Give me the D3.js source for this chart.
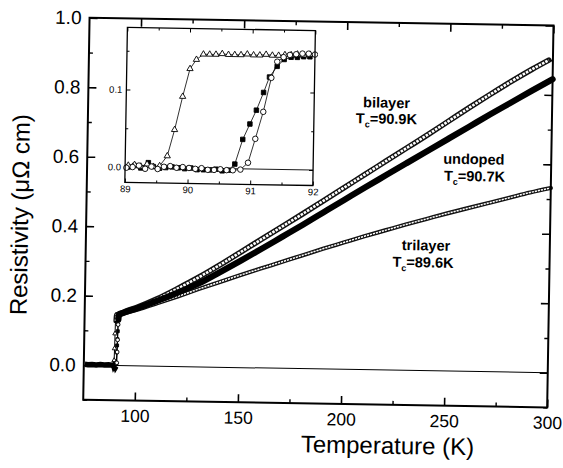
<!DOCTYPE html>
<html>
<head>
<meta charset="utf-8">
<script src="https://cdn.jsdelivr.net/npm/d3@7"></script>
<style>
  body { margin: 0; background: #fff; }
  svg { display: block; font-family: Arial, "Liberation Sans", sans-serif; }
</style>
</head>
<body>
<svg id="chart" width="563" height="468"></svg>
<script>
// ---- values (T in K, resistivity in µΩ cm) ----
const lowT = [75.5, 77, 79, 81, 83, 85, 87, 88.5];
const lowR = [0.002, 0.001, 0.002, 0.001, 0.002, 0.001, 0.002, 0.001];

const highT    = [92, 95, 100, 110, 120, 130, 140, 150, 160, 170, 180, 190, 200, 210, 220, 230, 240, 250, 260, 270, 280, 290, 300];
const bilayerT = [92, 95, 100, 110, 120, 130, 140, 150, 160, 170, 180, 190, 200, 210, 220, 230, 240, 250, 260, 270, 280, 290, 298];
const bilayerR  = [0.150, 0.157, 0.168, 0.194, 0.225, 0.258, 0.294, 0.332, 0.370, 0.408, 0.446, 0.485, 0.524, 0.563, 0.602, 0.641, 0.680, 0.720, 0.760, 0.799, 0.837, 0.873, 0.900];
const undopedR  = [0.148, 0.155, 0.165, 0.188, 0.213, 0.240, 0.273, 0.307, 0.342, 0.378, 0.414, 0.451, 0.488, 0.525, 0.561, 0.597, 0.633, 0.669, 0.705, 0.741, 0.776, 0.811, 0.845];
const trilayerR = [0.146, 0.152, 0.161, 0.181, 0.202, 0.224, 0.245, 0.266, 0.286, 0.306, 0.326, 0.346, 0.365, 0.384, 0.402, 0.420, 0.437, 0.454, 0.470, 0.486, 0.502, 0.518, 0.532];

// inset: transition region, 89-92 K
const triT = [89.05, 89.15, 89.25, 89.35, 89.45, 89.55, 89.67, 89.78, 89.90, 90.01, 90.11, 90.22, 90.32, 90.42, 90.52, 90.62, 90.72, 90.82, 90.92, 91.02, 91.12, 91.22, 91.32, 91.42, 91.52, 91.62, 91.72, 91.82, 91.92];
const triR = [0.002, 0.003, 0.001, 0.004, 0.001, 0.002, 0.015, 0.049, 0.092, 0.128, 0.140, 0.147, 0.147, 0.147, 0.148, 0.147, 0.147, 0.147, 0.148, 0.147, 0.147, 0.148, 0.147, 0.147, 0.148, 0.148, 0.149, 0.148, 0.149];
const sqT  = [89.05, 89.15, 89.25, 89.37, 89.45, 89.55, 89.65, 89.75, 89.85, 89.95, 90.05, 90.15, 90.25, 90.35, 90.45, 90.55, 90.65, 90.75, 90.87, 90.98, 91.08, 91.19, 91.28, 91.40, 91.51, 91.62, 91.72, 91.82, 91.92];
const sqR  = [0.000, 0.002, -0.001, 0.006, 0.001, -0.001, 0.000, 0.001, 0.000, -0.001, 0.000, -0.002, -0.002, -0.002, -0.001, -0.003, -0.002, 0.006, 0.038, 0.058, 0.076, 0.099, 0.119, 0.133, 0.142, 0.145, 0.145, 0.146, 0.146];
const ciT  = [89.02, 89.12, 89.22, 89.32, 89.42, 89.52, 89.62, 89.72, 89.82, 89.92, 90.02, 90.12, 90.22, 90.32, 90.42, 90.52, 90.62, 90.72, 90.84, 90.96, 91.07, 91.19, 91.31, 91.40, 91.50, 91.60, 91.70, 91.80, 91.90, 92.00];
const ciR  = [-0.001, 0.000, 0.002, -0.002, 0.001, -0.002, 0.001, 0.002, 0.000, 0.001, 0.000, -0.001, 0.000, -0.002, -0.002, -0.001, -0.002, -0.002, -0.001, 0.008, 0.039, 0.074, 0.118, 0.139, 0.145, 0.148, 0.149, 0.150, 0.150, 0.149];

const xMajor = [100, 150, 200, 250, 300], xMinor = [125, 175, 225, 275];
const yMajor = [0, 0.2, 0.4, 0.6, 0.8, 1.0], yMinor = [-0.1, 0.1, 0.3, 0.5, 0.7, 0.9];
const ixMajor = [89, 90, 91, 92], ixMinor = [89.5, 90.5, 91.5];
const iyMajor = [0, 0.1], iyMinor = [0.05, 0.15];

const labels = [
  { name: "bilayer",  tc: "=90.9K", x: 361, y: 106, tx: 354, ty: 122 },
  { name: "undoped",  tc: "=90.7K", x: 442, y: 161, tx: 443, ty: 178 },
  { name: "trilayer", tc: "=89.6K", x: 402, y: 248, tx: 393, ty: 265 },
];

const zip = (a, b) => a.map((v, i) => [v, b[i]]);

// series: inset points + main high-T points
const series = [
  { key: "undoped",  inset: zip(sqT, sqR),  high: zip(highT, undopedR),    sym: d3.symbolSquare,   size: 20, fill: "#000", msize: 9 },
  { key: "trilayer", inset: zip(triT, triR), high: zip(highT, trilayerR),  sym: d3.symbolTriangle, size: 17, fill: "#fff", msize: 9 },
  { key: "bilayer",  inset: zip(ciT, ciR),  high: zip(bilayerT, bilayerR), sym: d3.symbolCircle,   size: 24, fill: "#fff", msize: 11 },
];
// split each inset set into baseline / rising / plateau
for (const s of series) {
  const p = s.inset.findIndex(d => d[1] >= 0.125);
  let b = p - 1;
  while (b > 0 && s.inset[b][1] > 0.004) b--;
  s.base = s.inset.slice(0, b + 1);
  s.rise = s.inset.slice(b + 1, p);
  s.top = s.inset.slice(p).filter(d => d[0] < 92).concat(s.high);
}

const svg = d3.select("#chart");
svg.append("rect").attr("width", 563).attr("height", 468).attr("fill", "#fff");
// the scanned figure sits slightly tilted
const root = svg.append("g").attr("transform", "rotate(0.95 281 234)");

const x = d3.scaleLinear().domain([75, 300]).range([86, 550]);
const y = d3.scaleLinear().domain([-0.1, 1.0]).range([403, 21]);

function ticks(g, axis, vals, size, fmt, pad, fs, sw) {
  g.call(axis.tickValues(vals).tickSize(size).tickPadding(pad).tickFormat(fmt));
  g.attr("font-family", null);
  g.select(".domain").remove();
  g.selectAll(".tick line").attr("stroke", "#000").attr("stroke-width", sw);
  g.selectAll(".tick text").attr("font-size", fs).attr("fill", "#000");
}

// ---------- main axes ----------
const gAx = root.append("g");
const f1 = d3.format(".1f"), fd = d3.format("d");
ticks(gAx.append("g").attr("transform", "translate(0,403)"), d3.axisBottom(x), xMajor, -8, fd, 9, 17.5, 1.6);
ticks(gAx.append("g").attr("transform", "translate(0,403)"), d3.axisBottom(x), xMinor, -4, "", 9, 17.5, 1.4);
ticks(gAx.append("g").attr("transform", "translate(0,21)"), d3.axisTop(x), xMajor, -8, "", 3, 18, 1.6);
ticks(gAx.append("g").attr("transform", "translate(0,21)"), d3.axisTop(x), xMinor, -4, "", 3, 18, 1.4);
ticks(gAx.append("g").attr("transform", "translate(86,0)"), d3.axisLeft(y), yMajor, -8, f1, 8, 19, 1.6);
ticks(gAx.append("g").attr("transform", "translate(86,0)"), d3.axisLeft(y), yMinor, -4, "", 8, 19, 1.4);
ticks(gAx.append("g").attr("transform", "translate(550,0)"), d3.axisRight(y), yMajor, -8, "", 3, 18, 1.6);
ticks(gAx.append("g").attr("transform", "translate(550,0)"), d3.axisRight(y), yMinor, -4, "", 3, 18, 1.4);

// zero line
root.append("line")
  .attr("x1", x(90.9)).attr("x2", x(300)).attr("y1", y(0)).attr("y2", y(0))
  .attr("stroke", "#000").attr("stroke-width", 1);

// ---------- main data ----------
const line = d3.line().x(d => x(d[0])).y(d => y(d[1]));
const lineSmooth = d3.line().x(d => x(d[0])).y(d => y(d[1])).curve(d3.curveMonotoneX);
const gData = root.append("g");

// dense marker chains drawn as hollow / solid strokes
const styles = {
  trilayer: [{ w: 4.2, c: "#111" }, { w: 1.5, c: "#fff", dash: "2.2 0.9" }],
  bilayer:  [{ w: 5.6, c: "#111" }, { w: 2.6, c: "#fff", dash: "2.6 1.1" }],
  undoped:  [{ w: 6.2, c: "#000" }],
};
for (const key of ["trilayer", "bilayer", "undoped"]) {
  const s = series.find(d => d.key === key);
  for (const st of styles[key]) {
    gData.append("path").attr("d", lineSmooth(s.top))
      .attr("fill", "none").attr("stroke", st.c).attr("stroke-width", st.w)
      .attr("stroke-dasharray", st.dash || null)
      .attr("stroke-linejoin", "round").attr("stroke-linecap", st.dash ? "butt" : "round");
  }
}
// below Tc: all samples sit on zero (thick black band)
const sq = series.find(d => d.key === "undoped");
gData.append("path").attr("d", line(zip(lowT, lowR).concat(sq.base)))
  .attr("fill", "none").attr("stroke", "#000").attr("stroke-width", 5.5);
// transitions
for (const s of series) {
  const pts = [s.base[s.base.length - 1]].concat(s.rise, [s.top[0]]);
  gData.append("path").attr("d", line(pts)).attr("fill", "none").attr("stroke", "#000").attr("stroke-width", 1);
  gData.selectAll(null).data(s.rise).join("path")
    .attr("transform", d => `translate(${x(d[0])},${y(d[1])})`)
    .attr("d", d3.symbol(s.sym, s.msize))
    .attr("fill", s.fill).attr("stroke", "#000").attr("stroke-width", 0.9);
}

// frame
root.append("rect").attr("x", 86).attr("y", 21).attr("width", 464).attr("height", 382)
  .attr("fill", "none").attr("stroke", "#000").attr("stroke-width", 2);

// ---------- axis titles ----------
root.append("text").attr("x", 391).attr("y", 452).attr("text-anchor", "middle")
  .attr("font-size", 24).text("Temperature (K)");
root.append("text").attr("transform", "translate(28,219) rotate(-90)").attr("text-anchor", "middle")
  .attr("font-size", 24).text("Resistivity (\u03bc\u03a9 cm)");

// ---------- curve labels ----------
const gLab = root.append("g").attr("font-weight", "bold").attr("font-size", 14.5).attr("fill", "#000");
for (const l of labels) {
  gLab.append("text").attr("x", l.x).attr("y", l.y).text(l.name);
  const t = gLab.append("text").attr("x", l.tx).attr("y", l.ty);
  t.append("tspan").text("T");
  t.append("tspan").attr("font-size", 9).attr("dy", 4).text("c");
  t.append("tspan").attr("dy", -4).text(l.tc);
}

// ---------- inset ----------
const ix = d3.scaleLinear().domain([89, 92]).range([124, 312]);
const iy = d3.scaleLinear().domain([-0.02, 0.18]).range([185, 30]);
const gIn = root.append("g");
gIn.append("rect").attr("x", 124).attr("y", 30).attr("width", 188).attr("height", 155).attr("fill", "#fff");
svg.append("defs").append("clipPath").attr("id", "inclip")
  .append("rect").attr("x", 121).attr("y", 27).attr("width", 194).attr("height", 161);

ticks(gIn.append("g").attr("transform", "translate(0,185)"), d3.axisBottom(ix), ixMajor, -4, fd, 3, 9.5, 1);
ticks(gIn.append("g").attr("transform", "translate(0,185)"), d3.axisBottom(ix), ixMinor, -2.5, "", 3, 9.5, 1);
ticks(gIn.append("g").attr("transform", "translate(0,30)"), d3.axisTop(ix), ixMajor, -4, "", 3, 9.5, 1);
ticks(gIn.append("g").attr("transform", "translate(0,30)"), d3.axisTop(ix), ixMinor, -2.5, "", 3, 9.5, 1);
ticks(gIn.append("g").attr("transform", "translate(124,0)"), d3.axisLeft(iy), iyMajor, -4, f1, 4, 9.5, 1);
ticks(gIn.append("g").attr("transform", "translate(124,0)"), d3.axisLeft(iy), iyMinor, -2.5, "", 4, 9.5, 1);
ticks(gIn.append("g").attr("transform", "translate(312,0)"), d3.axisRight(iy), iyMajor, -4, "", 3, 9.5, 1);
ticks(gIn.append("g").attr("transform", "translate(312,0)"), d3.axisRight(iy), iyMinor, -2.5, "", 3, 9.5, 1);

gIn.append("line").attr("x1", ix(89)).attr("x2", ix(92)).attr("y1", iy(0)).attr("y2", iy(0))
  .attr("stroke", "#000").attr("stroke-width", 0.9);

const iline = d3.line().x(d => ix(d[0])).y(d => iy(d[1]));
const gInData = gIn.append("g").attr("clip-path", "url(#inclip)");
for (const key of ["undoped", "trilayer", "bilayer"]) {
  const s = series.find(d => d.key === key);
  gInData.append("path").attr("d", iline(s.inset))
    .attr("fill", "none").attr("stroke", "#000").attr("stroke-width", 0.8);
}
for (const key of ["undoped", "trilayer", "bilayer"]) {
  const s = series.find(d => d.key === key);
  gInData.selectAll(null).data(s.inset).join("path")
    .attr("transform", d => `translate(${ix(d[0])},${iy(d[1])})`)
    .attr("d", d3.symbol(s.sym, s.size))
    .attr("fill", s.fill).attr("stroke", "#000").attr("stroke-width", 0.9);
}
gIn.append("rect").attr("x", 124).attr("y", 30).attr("width", 188).attr("height", 155)
  .attr("fill", "none").attr("stroke", "#000").attr("stroke-width", 1.3);
</script>
</body>
</html>
